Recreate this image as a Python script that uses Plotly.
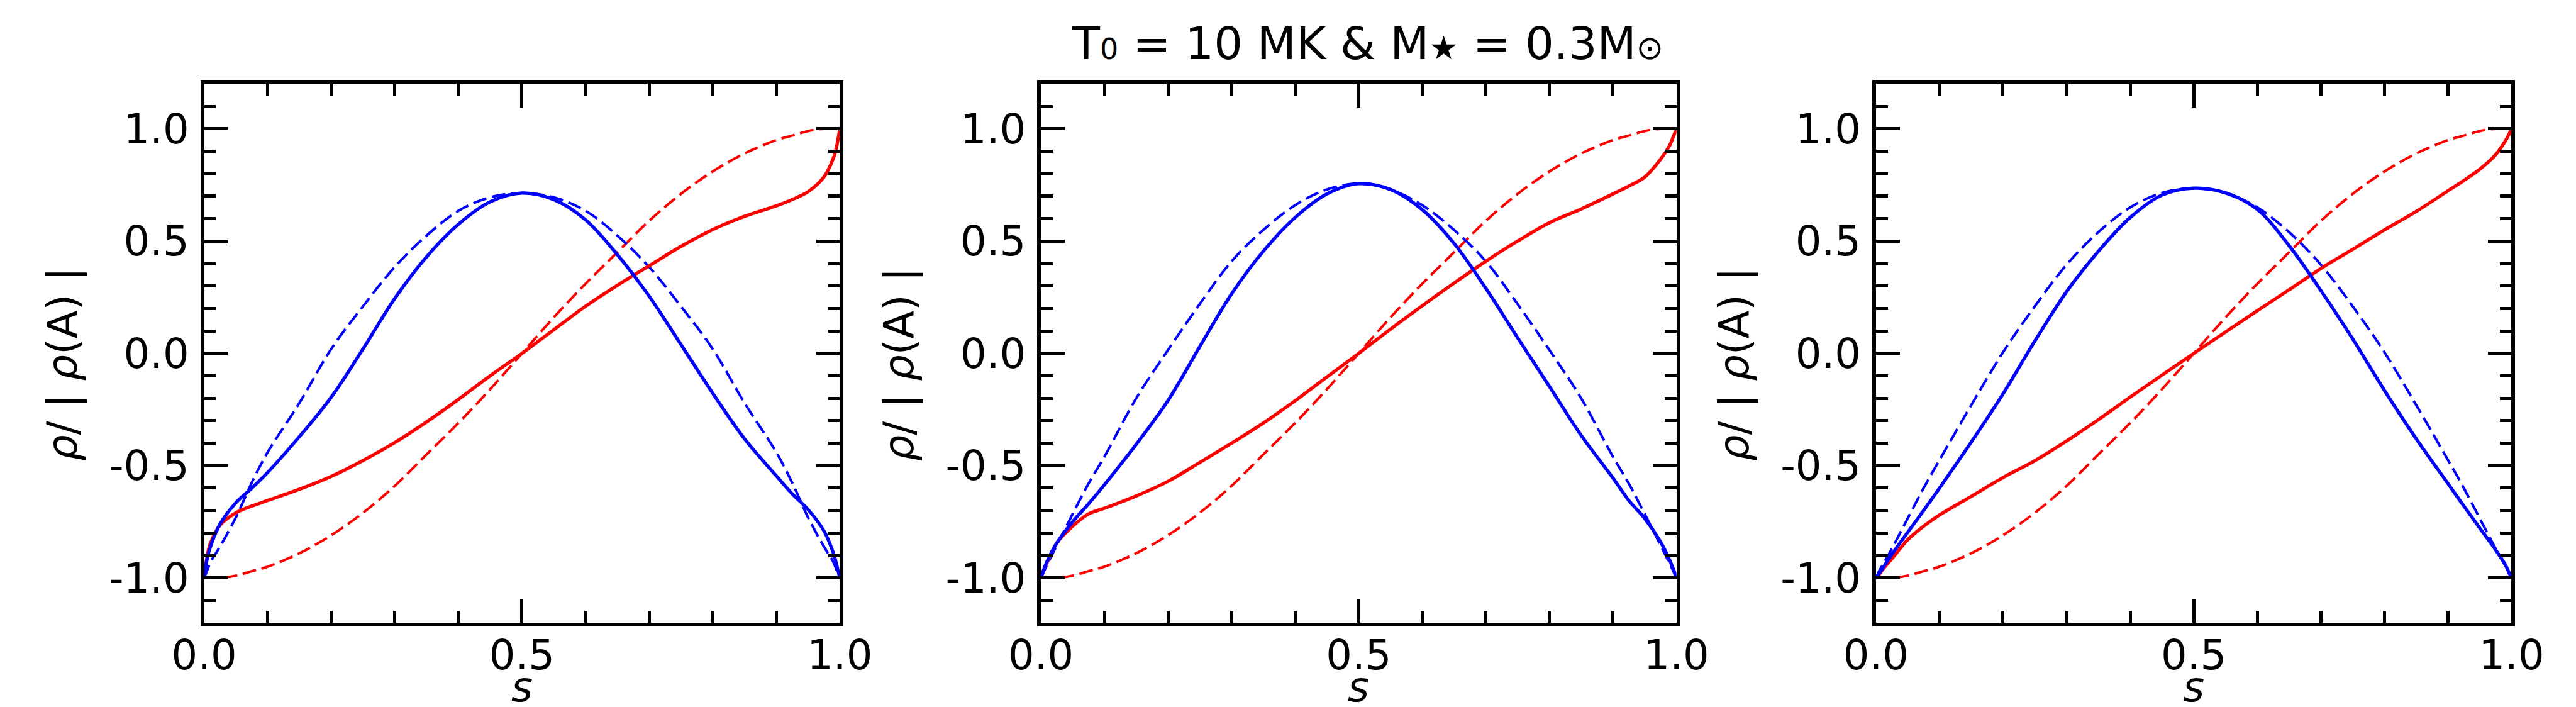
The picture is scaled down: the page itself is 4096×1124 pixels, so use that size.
import plotly.graph_objects as go

# sample positions along s
s = [0, 0.005, 0.01, 0.025, 0.05, 0.075, 0.1, 0.15, 0.2, 0.25, 0.3, 0.35, 0.4, 0.45, 0.5,
     0.55, 0.6, 0.65, 0.7, 0.75, 0.8, 0.85, 0.9, 0.925, 0.95, 0.975, 0.99, 0.995, 1.0]

# dashed red reference curve (same in all panels)
red_dashed = [-1.0, -1.0, -1.0, -1.0, -0.99, -0.97, -0.95, -0.89, -0.81, -0.71, -0.59, -0.45, -0.31, -0.16, 0.0,
              0.16, 0.31, 0.45, 0.59, 0.71, 0.81, 0.89, 0.95, 0.97, 0.99, 1.0, 1.0, 1.0, 1.0]

# panel 1
blue_dashed_1 = [-1.0, -0.965, -0.93, -0.86, -0.73, -0.575, -0.44, -0.22, 0.02, 0.21, 0.385, 0.525, 0.635, 0.695, 0.714,
                 0.695, 0.635, 0.525, 0.385, 0.21, 0.02, -0.22, -0.44, -0.575, -0.73, -0.86, -0.93, -0.965, -1.0]
blue_solid_1 = [-1.0, -0.91, -0.86, -0.76, -0.665, -0.60, -0.53, -0.37, -0.195, 0.02, 0.245, 0.43, 0.575, 0.675, 0.714,
                0.685, 0.595, 0.44, 0.255, 0.04, -0.177, -0.38, -0.545, -0.625, -0.695, -0.79, -0.89, -0.94, -1.0]
red_solid_1 = [-1.0, -0.90, -0.845, -0.765, -0.71, -0.68, -0.655, -0.605, -0.548, -0.477, -0.397, -0.305, -0.205, -0.10, 0.0,
               0.105, 0.21, 0.303, 0.39, 0.476, 0.551, 0.61, 0.657, 0.685, 0.72, 0.785, 0.87, 0.92, 1.0]

# panel 2
blue_dashed_2 = [-1.0, -0.97, -0.94, -0.855, -0.715, -0.58, -0.46, -0.20, 0.015, 0.22, 0.41, 0.55, 0.66, 0.73, 0.756,
                 0.73, 0.66, 0.55, 0.41, 0.22, 0.015, -0.20, -0.46, -0.58, -0.715, -0.855, -0.94, -0.97, -1.0]
blue_solid_2 = [-1.0, -0.96, -0.925, -0.845, -0.75, -0.67, -0.585, -0.405, -0.21, 0.03, 0.265, 0.455, 0.605, 0.71, 0.756,
                0.73, 0.64, 0.49, 0.29, 0.07, -0.147, -0.365, -0.555, -0.655, -0.735, -0.84, -0.925, -0.96, -1.0]
red_solid_2 = [-1.0, -0.96, -0.93, -0.845, -0.77, -0.715, -0.69, -0.635, -0.57, -0.486, -0.40, -0.31, -0.211, -0.105, 0.0,
               0.108, 0.212, 0.313, 0.41, 0.50, 0.582, 0.643, 0.71, 0.745, 0.785, 0.865, 0.93, 0.965, 1.0]

# panel 3
blue_dashed_3 = [-1.0, -0.97, -0.945, -0.87, -0.735, -0.60, -0.475, -0.23, 0.005, 0.21, 0.395, 0.54, 0.65, 0.715, 0.735,
                 0.715, 0.65, 0.54, 0.395, 0.21, 0.005, -0.23, -0.475, -0.60, -0.735, -0.87, -0.945, -0.97, -1.0]
blue_solid_3 = [-1.0, -0.98, -0.96, -0.895, -0.797, -0.70, -0.60, -0.395, -0.18, 0.055, 0.275, 0.455, 0.605, 0.705, 0.736,
                0.715, 0.641, 0.48, 0.28, 0.065, -0.165, -0.38, -0.58, -0.68, -0.778, -0.875, -0.94, -0.97, -1.0]
red_solid_3 = [-1.0, -0.985, -0.965, -0.915, -0.83, -0.77, -0.72, -0.637, -0.553, -0.478, -0.39, -0.295, -0.195, -0.097, 0.0,
               0.095, 0.19, 0.283, 0.378, 0.463, 0.55, 0.632, 0.724, 0.77, 0.82, 0.885, 0.945, 0.97, 1.0]

x_ticks = [0.0, 0.5, 1.0]
x_ticktext = ["0.0", "0.5", "1.0"]
y_ticks = [-1.0, -0.5, 0.0, 0.5, 1.0]
y_ticktext = ["-1.0", "-0.5", "0.0", "0.5", "1.0"]
x_label = "<i>s</i>"
y_label = "<i>ρ</i>/ | <i>ρ</i>(A) |"
title_text = ('T<span style="font-size:46px">0</span> = 10 MK &amp; M<span style="font-size:52px">★</span>'
              ' = 0.3M<span style="font-size:52px">⊙</span>')

RED = "#ff0000"
BLUE = "#0000ff"
FONT = "DejaVu Sans"

panels = [(red_solid_1, blue_solid_1, blue_dashed_1),
          (red_solid_2, blue_solid_2, blue_dashed_2),
          (red_solid_3, blue_solid_3, blue_dashed_3)]

x_domains = [[398 / 6004, 1918 / 6004], [2399 / 6004, 3919 / 6004], [4396 / 6004, 5916 / 6004]]
y_domain = [1 - 1440 / 1648, 1 - 184 / 1648]

SOLID_W = 5.3
DASH_W = 4.0
DASH = "22px,9px"

fig = go.Figure()
for i, (rs, bs, bd) in enumerate(panels):
    xa = "x" if i == 0 else f"x{i + 1}"
    ya = "y" if i == 0 else f"y{i + 1}"
    fig.add_trace(go.Scatter(x=s, y=red_dashed, mode="lines", xaxis=xa, yaxis=ya, showlegend=False,
                             line=dict(color=RED, width=DASH_W, dash=DASH, shape="spline", smoothing=1.0)))
    fig.add_trace(go.Scatter(x=s, y=bd, mode="lines", xaxis=xa, yaxis=ya, showlegend=False,
                             line=dict(color=BLUE, width=DASH_W, dash=DASH, shape="spline", smoothing=1.0)))
    fig.add_trace(go.Scatter(x=s, y=rs, mode="lines", xaxis=xa, yaxis=ya, showlegend=False,
                             line=dict(color=RED, width=SOLID_W, shape="spline", smoothing=1.0)))
    fig.add_trace(go.Scatter(x=s, y=bs, mode="lines", xaxis=xa, yaxis=ya, showlegend=False,
                             line=dict(color=BLUE, width=SOLID_W, shape="spline", smoothing=1.0)))

common = dict(showline=True, linecolor="black", linewidth=5.5, mirror="allticks",
              ticks="inside", ticklen=38, tickwidth=5, tickcolor="black",
              showgrid=False, zeroline=False,
              tickfont=dict(family=FONT, size=65.5, color="black"),
              minor=dict(ticks="inside", ticklen=19, tickwidth=5, tickcolor="black",
                         dtick=0.1, showgrid=False))

layout_axes = {}
for i in range(3):
    xk = "xaxis" if i == 0 else f"xaxis{i + 1}"
    yk = "yaxis" if i == 0 else f"yaxis{i + 1}"
    xa = "x" if i == 0 else f"x{i + 1}"
    ya = "y" if i == 0 else f"y{i + 1}"
    layout_axes[xk] = dict(common, domain=x_domains[i], anchor=ya, range=[0, 1],
                           tickmode="array", tickvals=x_ticks, ticktext=x_ticktext, ticklabelstandoff=-10)
    layout_axes[yk] = dict(common, domain=y_domain, anchor=xa, range=[-1.2, 1.2],
                           tickmode="array", tickvals=y_ticks, ticktext=y_ticktext, ticklabelstandoff=5)

annotations = []
for i in range(3):
    x0, x1 = x_domains[i]
    annotations.append(dict(text=x_label, x=(x0 + x1) / 2, y=0, xref="paper", yref="paper",
                            xanchor="center", yanchor="bottom", showarrow=False,
                            font=dict(family=FONT, size=65.5, color="black")))
    annotations.append(dict(text=y_label, x=x0 - 338 / 6004, y=1 - 837 / 1648, xref="paper", yref="paper",
                            xanchor="center", yanchor="middle", showarrow=False, textangle=-90,
                            font=dict(family=FONT, size=65.5, color="black")))
annotations.append(dict(text=title_text, x=3180 / 6004, y=1 - 89 / 1648, xref="paper", yref="paper",
                        xanchor="center", yanchor="middle", showarrow=False,
                        font=dict(family=FONT, size=72, color="black")))

fig.update_layout(width=4096, height=1124, margin=dict(l=0, r=0, t=0, b=0),
                  paper_bgcolor="white", plot_bgcolor="white",
                  annotations=annotations, **layout_axes)

fig.write_html("out.html")
